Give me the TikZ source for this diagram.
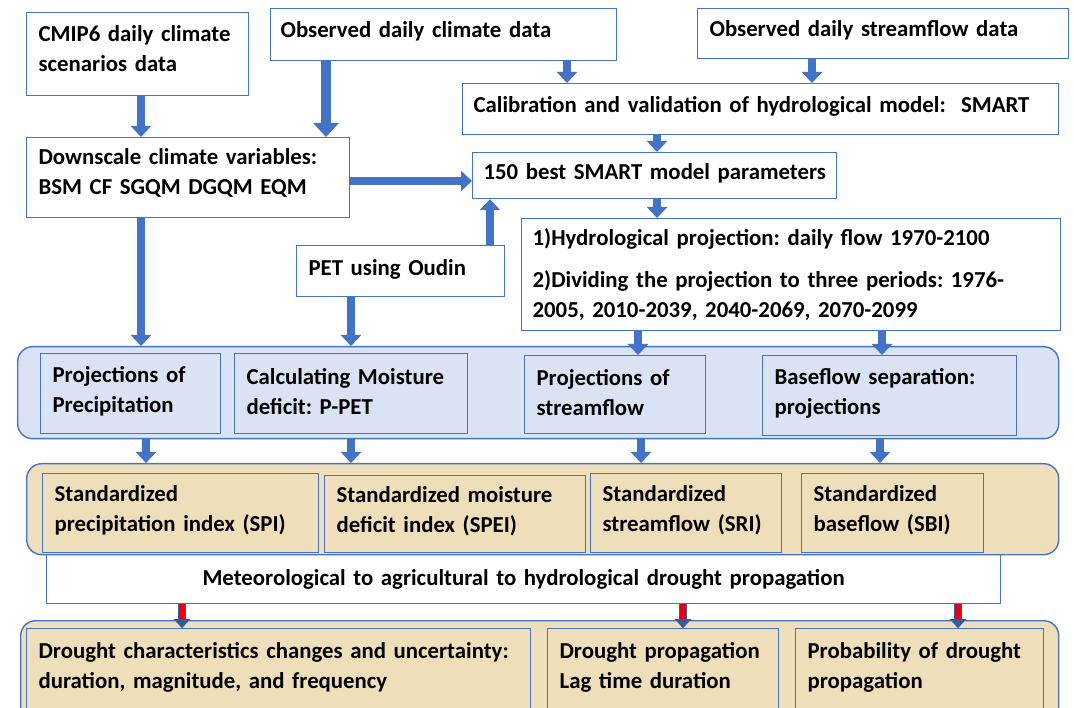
\documentclass[tikz,border=0pt]{standalone}
\usepackage{fontspec}
\setmainfont{Carlito}
\frenchspacing
\usetikzlibrary{arrows.meta}
\definecolor{bblue}{RGB}{68,114,196}
\definecolor{lblue}{RGB}{218,227,243}
\definecolor{tanfill}{RGB}{238,222,186}
\definecolor{rarrow}{RGB}{230,0,18}
\newcommand{\liftby}[1]{\endgraf\vspace{#1}}
\begin{document}
\begin{tikzpicture}[x=1pt,y=-1pt,
  font=\fontsize{22.8}{30}\selectfont\bfseries,
  box/.style={draw=bblue, line width=1.2pt, fill=white, anchor=north west,
    inner xsep=12pt, inner ysep=0pt, align=left, text=black},
  inbox/.style={box, fill=none},
  up/.style={execute at end node={\liftby{#1}}},
  cont/.style={draw=bblue, line width=1.4pt, anchor=north west, rounded corners=15pt, inner sep=0pt},
  barrow/.style={draw=bblue, line width=8pt, -{Triangle[length=11pt,width=20pt]}},
  bigarrow/.style={draw=bblue, line width=10pt, -{Triangle[length=14pt,width=25pt]}},
  rarr/.style={preaction={draw=bblue!80!black, line width=8pt, -{Triangle[length=9pt,width=16pt]}},
    draw=rarrow, line width=6pt, -{Triangle[length=9pt,width=16pt,color=bblue!80!black]}}
]
\useasboundingbox (0,0) rectangle (1074,708);
\fill[white] (0,0) rectangle (1074,708);

% top boxes
\node[box, up=12pt, minimum width=222pt, minimum height=83pt, text width=198pt] (cmip) at (26,12) {CMIP6 daily climate\\scenarios data};
\node[box, up=6pt, minimum width=346pt, minimum height=52pt, text width=326pt, inner xsep=10pt] (obsc) at (270,8) {Observed daily climate data};
\node[box, up=6pt, minimum width=371pt, minimum height=50pt, text width=347pt] (obss) at (697,8) {Observed daily streamflow data};
\node[box, up=6pt, minimum width=596pt, minimum height=51pt, text width=574pt, inner xsep=11pt] (calib) at (462,83) {\mbox{Calibration and validation of hydrological model:~~SMART}};
\node[box, up=10pt, minimum width=323pt, minimum height=80pt, text width=299pt] (down) at (26,137) {Downscale climate variables:\\BSM CF SGQM DGQM EQM};
\node[box, up=4pt, minimum width=364pt, minimum height=46pt, text width=342pt, inner xsep=11pt] (best) at (472,152) {\mbox{150 best SMART model parameters}};
\node[box, minimum width=539pt, minimum height=112pt, text width=517pt, inner xsep=11pt] (hydro) at (521,218) {1)Hydrological projection: daily flow 1970-2100\\[12pt]2)Dividing the projection to three periods: 1976-\\2005, 2010-2039, 2040-2069, 2070-2099};
\node[box, up=4pt, minimum width=208pt, minimum height=51pt, text width=184pt] (pet) at (296,245) {PET using Oudin};

% blue container
\node[cont, fill=lblue, minimum width=1041pt, minimum height=92pt] (bc) at (17,346) {};
\node[inbox, up=4pt, minimum width=180pt, minimum height=80pt, text width=156pt] (pp) at (40,353) {Projections of\\Precipitation};
\node[inbox, up=4pt, minimum width=233pt, minimum height=80pt, text width=209pt] (cm) at (234,353) {Calculating Moisture\\deficit: P-PET};
\node[inbox, up=4pt, minimum width=181pt, minimum height=78pt, text width=157pt] (ps) at (524,355) {Projections of\\streamflow};
\node[inbox, up=4pt, minimum width=254pt, minimum height=80pt, text width=230pt] (bs) at (762,355) {Baseflow separation:\\projections};

% meteorological box (behind tan container)
\node[box, minimum width=954pt, minimum height=49pt, text width=930pt, align=center] (meteo) at (46,554) {Meteorological to agricultural to hydrological drought propagation};

% tan container
\node[cont, fill=tanfill, minimum width=1032pt, minimum height=91pt] (tc) at (26,463) {};
\node[inbox, up=6pt, minimum width=276pt, minimum height=79pt, text width=252pt] (spi) at (42,473) {Standardized\\precipitation index (SPI)};
\node[inbox, up=6pt, minimum width=261pt, minimum height=77pt, text width=237pt] (spei) at (324,475) {Standardized moisture\\deficit index (SPEI)};
\node[inbox, up=6pt, minimum width=191pt, minimum height=79pt, text width=167pt] (sri) at (590,473) {Standardized\\streamflow (SRI)};
\node[inbox, up=6pt, minimum width=182pt, minimum height=79pt, text width=158pt] (sbi) at (801,473) {Standardized\\baseflow (SBI)};

% bottom tan container
\node[cont, fill=tanfill, minimum width=1038pt, minimum height=110pt] (bt) at (20,620) {};
\node[inbox, up=4pt, minimum width=504pt, minimum height=82pt, text width=480pt] (dc) at (26,628) {Drought characteristics changes and uncertainty:\\duration, magnitude, and frequency};
\node[inbox, up=4pt, minimum width=231pt, minimum height=82pt, text width=207pt] (dp) at (547,628) {Drought propagation\\Lag time duration};
\node[inbox, up=4pt, minimum width=248pt, minimum height=82pt, text width=224pt] (prob) at (795,628) {Probability of drought\\propagation};

% arrow x positions
\coordinate (x141) at (141,0);
\coordinate (x146) at (146,0);
\coordinate (x326) at (326,0);
\coordinate (x351) at (351,0);
\coordinate (x490) at (490,0);
\coordinate (x567) at (567,0);
\coordinate (x812) at (812,0);
\coordinate (x657) at (657,0);
\coordinate (x638) at (638,0);
\coordinate (x641) at (641,0);
\coordinate (x882) at (882,0);
\coordinate (x880) at (880,0);
\coordinate (x182) at (182,0);
\coordinate (x683) at (683,0);
\coordinate (x958) at (958,0);
\coordinate (y181) at (0,181);

% blue arrows
\draw[barrow] (cmip.south -| x141) -- (down.north -| x141);
\draw[bigarrow] (obsc.south -| x326) -- (down.north -| x326);
\draw[barrow] (obsc.south -| x567) -- (calib.north -| x567);
\draw[barrow] (obss.south -| x812) -- (calib.north -| x812);
\draw[barrow] (calib.south -| x657) -- (best.north -| x657);
\draw[barrow] (down.east |- y181) -- (best.west |- y181);
\draw[barrow] (best.south -| x657) -- (hydro.north -| x657);
\draw[barrow] (pet.north -| x490) -- (best.south -| x490);
\draw[barrow] (down.south -| x141) -- (bc.north -| x141);
\draw[barrow] (pet.south -| x351) -- (bc.north -| x351);
\draw[barrow] (hydro.south -| x638) -- (ps.north -| x638);
\draw[barrow] (hydro.south -| x882) -- (bs.north -| x882);
\draw[barrow] (bc.south -| x146) -- (tc.north -| x146);
\draw[barrow] (bc.south -| x351) -- (tc.north -| x351);
\draw[barrow] (bc.south -| x641) -- (tc.north -| x641);
\draw[barrow] (bc.south -| x880) -- (tc.north -| x880);

% red arrows
\draw[rarr] (meteo.south -| x182) -- (dc.north -| x182);
\draw[rarr] (meteo.south -| x683) -- (dp.north -| x683);
\draw[rarr] (meteo.south -| x958) -- (prob.north -| x958);
\end{tikzpicture}
\end{document}
